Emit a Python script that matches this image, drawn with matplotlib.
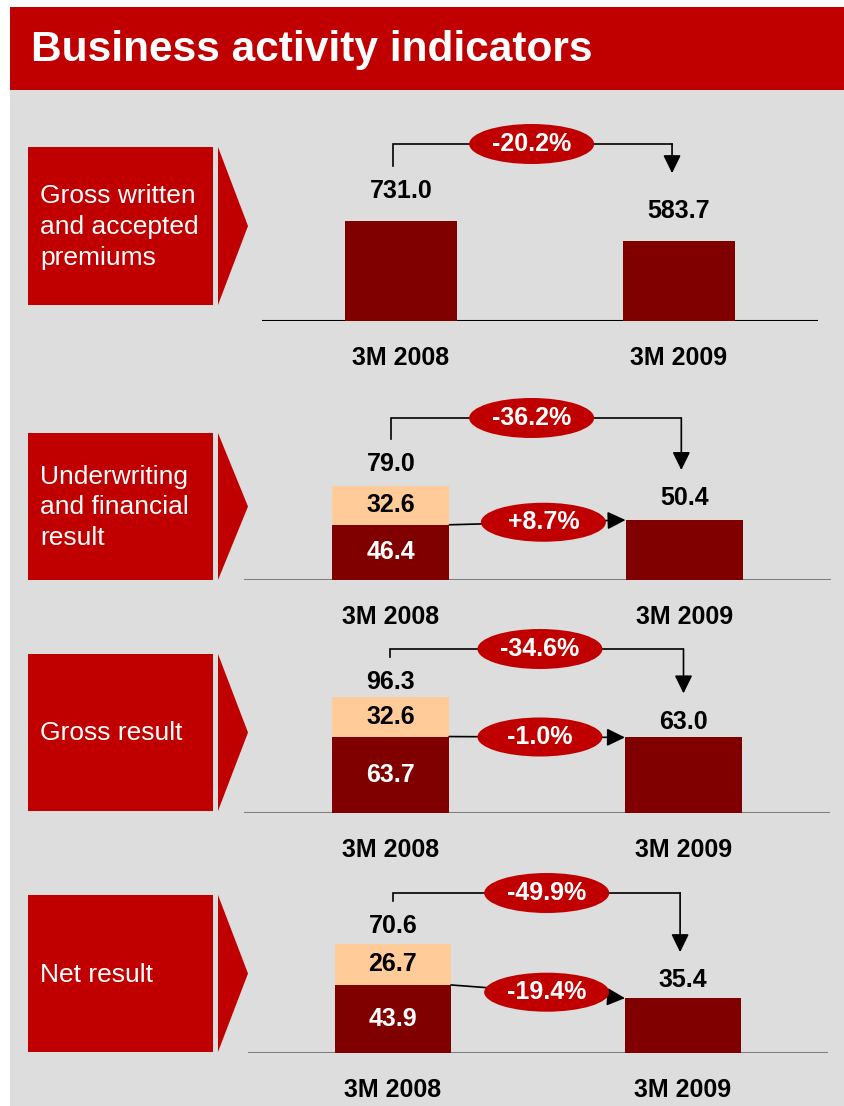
import matplotlib
matplotlib.use("Agg")
import matplotlib.pyplot as plt
from matplotlib.patches import Rectangle, Polygon, Ellipse

# ---------------- data ----------------
title = "Business activity indicators"
indicators = ["Gross written\nand accepted\npremiums",
              "Underwriting\nand financial\nresult",
              "Gross result",
              "Net result"]
periods = ["3M 2008", "3M 2009"]
base_2008 = [731.0, 46.4, 63.7, 43.9]
extra_2008 = [0.0, 32.6, 32.6, 26.7]
total_2008 = [731.0, 79.0, 96.3, 70.6]
value_2009 = [583.7, 50.4, 63.0, 35.4]
change_total = ["-20.2%", "-36.2%", "-34.6%", "-49.9%"]
change_base = [None, "+8.7%", "-1.0%", "-19.4%"]

# ---------------- style / layout ----------------
RED = "#C00000"
DARK = "#800000"
PEACH = "#FFCC99"
BG = "#DDDDDD"
W, H = 845, 1106

plt.rcParams["font.family"] = ["Liberation Sans", "DejaVu Sans"]

fig = plt.figure(figsize=(W / 100, H / 100), dpi=100)
fig.patch.set_facecolor("white")

bg = fig.add_axes([0, 0, 1, 1])
bg.set_xlim(0, W)
bg.set_ylim(H, 0)
bg.axis("off")
bg.add_patch(Rectangle((10, 90), W - 10, H - 90, facecolor=BG, edgecolor="none"))
bg.add_patch(Rectangle((10, 7), W - 10, 83, facecolor=RED, edgecolor="none"))
bg.text(31, 50, title, color="white", fontsize=30.5, fontweight="bold",
        ha="left", va="center")

box_top = [147, 433, 654, 895]
box_bot = [305, 580, 811, 1052]
for t, b, lab in zip(box_top, box_bot, indicators):
    bg.add_patch(Rectangle((28, t), 213 - 28, b - t, facecolor=RED, edgecolor="none"))
    bg.add_patch(Polygon([(218, t), (248, (t + b) / 2), (218, b)], closed=True,
                         facecolor=RED, edgecolor="none"))
    bg.text(40, (t + b) / 2 + 1, lab, color="white", fontsize=19, ha="left",
            va="center", linespacing=1.36)

# panel geometry (pixels)
baseline = [321, 580, 813, 1053]
ax_x0 = [262, 244, 244, 248]
ax_x1 = [818, 831, 830, 828]
scale = [100 / 731.0, 1.19, 1.2, 1.55]        # px per unit
base_col = ["black", "#7F7F7F", "#7F7F7F", "#7F7F7F"]
label_off = [30, 22, 15, 18]
tip_gap = [38, 28, 29, 28]
bracket_px = [177, 162, 164, 160]
bracket_x = [(-0.03, 0.975), (0.0, 0.99), (0.0, 1.0), (0.0, 0.99)]
ell_x = [0.47, 0.48, 0.51, 0.53]
inner_ell_x = [None, 0.52, 0.51, 0.53]
AX_H = 240
BW = 0.4

arrow_style = "-|>,head_length=0.55,head_width=0.27"

for i in range(4):
    x0, x1, yb = ax_x0[i], ax_x1[i], baseline[i]
    ax = fig.add_axes([x0 / W, 1 - yb / H, (x1 - x0) / W, AX_H / H])
    ax.set_xlim(-0.5, 1.5)
    ax.set_ylim(0, AX_H / scale[i])
    ax.axis("off")
    ax.patch.set_alpha(0)
    s = scale[i]
    pxu = (x1 - x0) / 2.0

    ax.axhline(0, color=base_col[i], lw=1.5, zorder=1)

    ax.bar([0], [base_2008[i]], width=BW, color=DARK, zorder=2)
    if extra_2008[i] > 0:
        ax.bar([0], [extra_2008[i]], bottom=[base_2008[i]], width=BW,
               color=PEACH, zorder=2)
        ax.text(0, base_2008[i] + extra_2008[i] / 2, f"{extra_2008[i]:.1f}",
                ha="center", va="center", fontsize=18, fontweight="bold",
                color="black", zorder=3)
        ax.text(0, base_2008[i] / 2, f"{base_2008[i]:.1f}", ha="center",
                va="center", fontsize=18, fontweight="bold", color="white",
                zorder=3)
    ax.bar([1], [value_2009[i]], width=BW, color=DARK, zorder=2)

    # value labels
    ax.annotate(f"{total_2008[i]:.1f}", xy=(0, total_2008[i]),
                xytext=(0, label_off[i]), textcoords="offset pixels",
                ha="center", va="center", fontsize=18, fontweight="bold",
                annotation_clip=False)
    ax.annotate(f"{value_2009[i]:.1f}", xy=(1, value_2009[i]),
                xytext=(0, label_off[i]), textcoords="offset pixels",
                ha="center", va="center", fontsize=18, fontweight="bold",
                annotation_clip=False)

    # period labels
    for k, p in enumerate(periods):
        ax.annotate(p, xy=(k, 0), xytext=(0, -37), textcoords="offset pixels",
                    ha="center", va="center", fontsize=18, fontweight="bold",
                    annotation_clip=False)

    # total change bracket
    xl, xr = bracket_x[i]
    yb_d = bracket_px[i] / s
    y_start = total_2008[i] + (label_off[i] + 25) / s
    y_tip = value_2009[i] + (label_off[i] + tip_gap[i]) / s
    ax.plot([xl, xl, xr], [y_start, yb_d, yb_d], color="black", lw=1.2,
            clip_on=False, zorder=4, solid_joinstyle="miter")
    ax.annotate("", xy=(xr, y_tip), xytext=(xr, yb_d),
                arrowprops=dict(arrowstyle=arrow_style, color="black", lw=1.2,
                                shrinkA=0, shrinkB=0, mutation_scale=20),
                annotation_clip=False, zorder=4)
    ax.add_patch(Ellipse((ell_x[i], yb_d), 125 / pxu, 40 / s, facecolor=RED,
                         edgecolor="none", zorder=5, clip_on=False))
    ax.text(ell_x[i], yb_d, change_total[i], ha="center", va="center",
            fontsize=18, fontweight="bold", color="white", zorder=6)

    # base change arrow
    if change_base[i] is not None:
        xa, ya = BW / 2, base_2008[i]
        xt, yt = 1 - BW / 2, value_2009[i]
        ax.annotate("", xy=(xt, yt), xytext=(xa, ya),
                    arrowprops=dict(arrowstyle=arrow_style, color="black", lw=1.2,
                                    shrinkA=0, shrinkB=0, mutation_scale=20),
                    annotation_clip=False, zorder=4)
        xe = inner_ell_x[i]
        ye = ya + (yt - ya) * (xe - xa) / (xt - xa)
        ax.add_patch(Ellipse((xe, ye), 125 / pxu, 39 / s, facecolor=RED,
                             edgecolor="none", zorder=5, clip_on=False))
        ax.text(xe, ye, change_base[i], ha="center", va="center",
                fontsize=18, fontweight="bold", color="white", zorder=6)

fig.savefig("out.png", dpi=100, facecolor=fig.get_facecolor())
